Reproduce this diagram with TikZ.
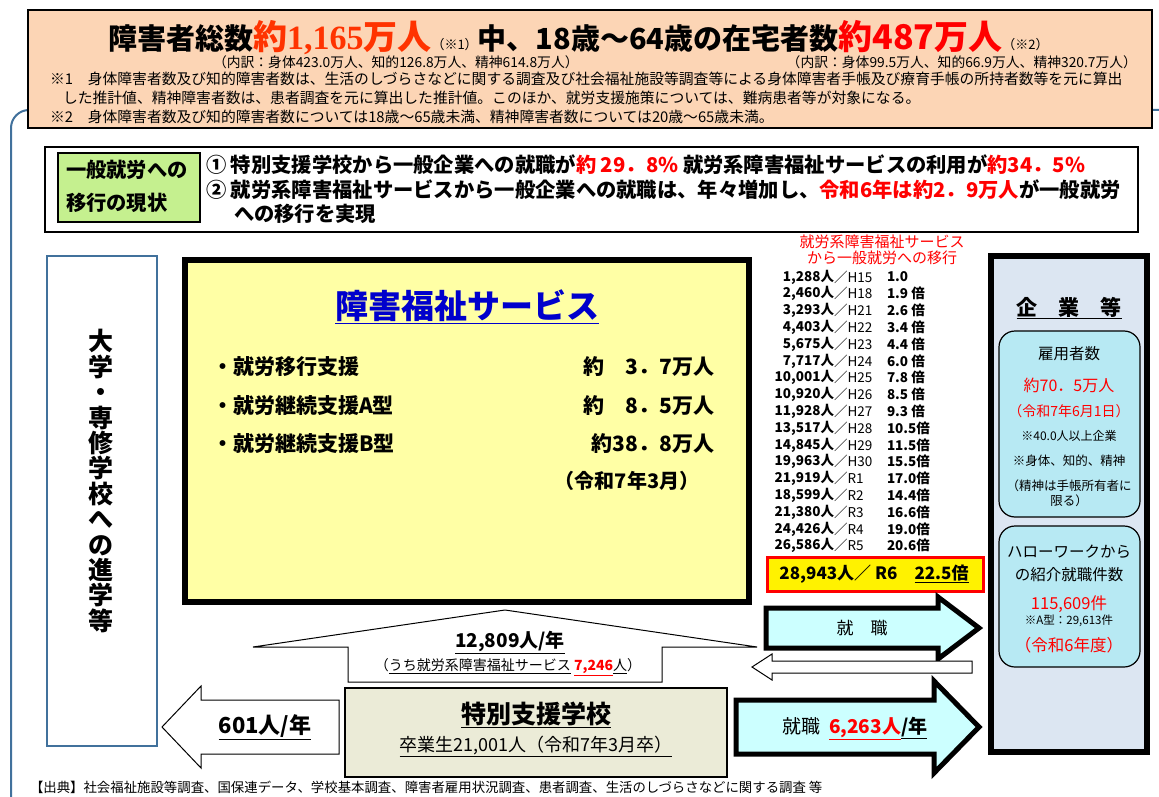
\documentclass[tikz,border=0pt]{standalone}
\usepackage{fontspec}
\setmainfont{Noto Sans CJK JP}
\newfontfamily\serifnum{Liberation Serif}
\usetikzlibrary{positioning}

\definecolor{peach}{HTML}{FCD5B5}
\definecolor{frameblue}{HTML}{41719C}
\definecolor{lime}{HTML}{C5F08F}
\definecolor{lemon}{HTML}{FFFFA5}
\definecolor{paleblue}{HTML}{DCE6F2}
\definecolor{aqua}{HTML}{B7E9F3}
\definecolor{arrowcyan}{HTML}{CCFFFF}
\definecolor{beige}{HTML}{EBEBD7}
\definecolor{hired}{HTML}{FF0000}
\definecolor{orred}{HTML}{FF3300}
\definecolor{titleblue}{HTML}{0000CC}

\newcommand{\fs}[1]{\fontsize{#1}{#1}\selectfont}

\tikzstyle{tx} = [inner sep=0pt, outer sep=0pt]
\tikzstyle{note} = [tx, anchor=west, font=\fs{14.8}]
\tikzstyle{lead} = [tx, anchor=west, font=\fs{20.3}\bfseries]
\tikzstyle{item} = [tx, font=\fs{21}\bfseries]
\tikzstyle{rowN} = [tx, anchor=east, font=\fs{13.5}\bfseries]
\tikzstyle{rowT} = [tx, anchor=west, font=\fs{13.5}]
\tikzstyle{rowM} = [tx, anchor=west, font=\fs{13.5}\bfseries]
\tikzstyle{pane} = [draw=black, line width=1.5pt]
\tikzstyle{heavy} = [draw=black, line width=6pt]
\tikzstyle{bubble} = [draw=black, line width=1.2pt, fill=aqua,
    rounded corners=16pt]
\tikzstyle{inb} = [tx, font=\fs{#1}]
\tikzstyle{blockR} = [draw=black, line width=5pt, fill=arrowcyan,
    line join=miter]
\tikzstyle{blockW} = [draw=black, line width=1pt, fill=white]

\begin{document}
\begin{tikzpicture}[x=1pt,y=-1pt]
\useasboundingbox (0,0) rectangle (1159,797);

% outer frame
\begin{scope}
\clip (0,0) rectangle (1159,797);
\draw[frameblue, line width=2pt, rounded corners=18pt] (11,110) rectangle (1185,825);
\end{scope}

% header
\draw[pane, fill=peach] (28,10) rectangle (1152,128);
\node[tx, anchor=base west] (hd) at (108,50) {%
  {\fs{29}\bfseries 障害者総数}%
  {\color{orred}\fs{34}\bfseries 約{\serifnum 1,165}万人}%
  {\fs{13}（※1）}%
  {\fs{29}\bfseries 中、18歳～64歳の在宅者数}%
  {\color{hired}\fs{34}\bfseries 約487万人}%
  {\fs{13}（※2）}};
\node[tx, anchor=west, font=\fs{13.8}] (hd-1) at (213,62)
  {（内訳：身体423.0万人、知的126.8万人、精神614.8万人）};
\node[tx, anchor=east, font=\fs{13.8}] (hd-2) at (1137,62)
  {（内訳：身体99.5万人、知的66.9万人、精神320.7万人）};
\node[note] (hd-3) at (50,79)
  {※1　身体障害者数及び知的障害者数は、生活のしづらさなどに関する調査及び社会福祉施設等調査等による身体障害者手帳及び療育手帳の所持者数等を元に算出};
\node[note] (hd-4) at (63,98)
  {した推計値、精神障害者数は、患者調査を元に算出した推計値。このほか、就労支援施策については、難病患者等が対象になる。};
\node[note] (hd-5) at (50,117)
  {※2　身体障害者数及び知的障害者数については18歳～65歳未満、精神障害者数については20歳～65歳未満。};

% current state
\draw[pane, line width=2.5pt, fill=white] (45,147) rectangle (1138,232);
\draw[pane, fill=lime] (58,153) rectangle (200,222);
\node[lead] (gen-1) at (66,170) {一般就労への};
\node[lead] (gen-2) at (66,203) {移行の現状};
\node[lead] (now-1) at (206,165)
  {① 特別支援学校から一般企業への就職が{\color{hired}約 29．8\%} 就労系障害福祉サービスの利用が{\color{hired}約34．5\%}};
\node[lead] (now-2) at (206,190)
  {② 就労系障害福祉サービスから一般企業への就職は、年々増加し、{\color{hired}令和6年は約2．9万人}が一般就労};
\node[lead] (now-3) at (234,214) {への移行を実現};

% university
\draw[frameblue, line width=2pt, fill=white] (47,256) rectangle (157,746);
\node[tx, font=\fs{25}\bfseries, align=center] (univ) at (101,481)
  {大\\[0.4pt]学\\[0.4pt]・\\[0.4pt]専\\[0.4pt]修\\[0.4pt]学\\[0.4pt]校\\[0.4pt]へ\\[0.4pt]の\\[0.4pt]進\\[0.4pt]学\\[0.4pt]等};

% welfare services
\draw[heavy, fill=lemon] (185,260) rectangle (749,602);
\node[tx, font=\fs{33}\bfseries, text=titleblue] (svc) at (467,307) {\underline{障害福祉サービス}};
\node[item, anchor=west] (svc-1) at (212,367) {・就労移行支援};
\node[item, anchor=west] (svc-2) at (212,406) {・就労継続支援A型};
\node[item, anchor=west] (svc-3) at (212,444) {・就労継続支援B型};
\node[item, anchor=east] (num-1) at (714,367) {約　3．7万人};
\node[item, anchor=east] (num-2) at (714,406) {約　8．5万人};
\node[item, anchor=east] (num-3) at (714,444) {約38．8万人};
\node[item, font=\fs{20}\bfseries] (num-4) at (627,481) {（令和7年3月）};

% transition list
\node[tx, font=\fs{15}, text=hired] (ls-1) at (882,242) {就労系障害福祉サービス};
\node[tx, font=\fs{15}, text=hired] (ls-2) at (882,258) {から一般就労への移行};
\foreach \num/\era/\rate [count=\i from 0] in
  {{1,288}/H15/{1.0}, {2,460}/H18/{1.9 倍}, {3,293}/H21/{2.6 倍},
   {4,403}/H22/{3.4 倍}, {5,675}/H23/{4.4 倍}, {7,717}/H24/{6.0 倍},
   {10,001}/H25/{7.8 倍}, {10,920}/H26/{8.5 倍}, {11,928}/H27/{9.3 倍},
   {13,517}/H28/{10.5倍}, {14,845}/H29/{11.5倍}, {19,963}/H30/{15.5倍},
   {21,919}/R1/{17.0倍}, {18,599}/R2/{14.4倍}, {21,380}/R3/{16.6倍},
   {24,426}/R4/{19.0倍}, {26,586}/R5/{20.6倍}}{
  \node[rowN] (row-\i) at (834,{277+\i*16.8}) {\num 人};
  \node[rowT] (era-\i) at (row-\i.east) {／\era};
  \node[rowM] (rate-\i) at (887,{277+\i*16.8}) {\rate};
}
\draw[draw=hired, line width=3pt, fill=yellow] (767,557) rectangle (983,591);
\node[tx, font=\fs{17}\bfseries] (r6) at (874,574) {28,943人／ R6\quad\underline{22.5倍}};

% companies
\draw[heavy, fill=paleblue] (991,256) rectangle (1147,752);
\node[tx, font=\fs{21}\bfseries] (co) at (1069,308) {\underline{企　業　等}};
\draw[bubble] (999,331) rectangle (1140,517);
\node[inb=15.5] (co-1) at (1069,354) {雇用者数};
\node[inb=16, text=hired] (co-2) at (1069,385) {約70．5万人};
\node[inb=14, text=hired] (co-3) at (1069,411) {（令和7年6月1日）};
\node[inb=12] (co-4) at (1069,436) {※40.0人以上企業};
\node[inb=12.5] (co-5) at (1069,461) {※身体、知的、精神};
\node[inb=12.5] (co-6) at (1069,486) {（精神は手帳所有者に};
\node[inb=12.5] (co-7) at (1069,501) {限る）};
\draw[bubble] (999,526) rectangle (1140,667);
\node[inb=15.5] (hw-1) at (1069,552) {ハローワークから};
\node[inb=15.5] (hw-2) at (1069,575) {の紹介就職件数};
\node[inb=16.5, text=hired] (hw-3) at (1069,604) {115,609件};
\node[inb=11.5] (hw-4) at (1069,621) {※A型：29,613件};
\node[inb=16.5, text=hired] (hw-5) at (1069,645) {（令和6年度）};

% arrows
\draw[blockR] (766,608) -- (938,608) -- (938,597) -- (979,628)
  -- (938,659) -- (938,648) -- (766,648) -- cycle;
\node[tx, font=\fs{17}] (job-1) at (862,628) {就　職};
\draw[blockW] (972,661) -- (772,661) -- (772,654) -- (752,667)
  -- (772,680) -- (772,673) -- (972,673) -- cycle;
\draw[blockW] (348,682) -- (348,647) -- (253,647) -- (505,610)
  -- (757,647) -- (662,647) -- (662,682) -- cycle;
\node[tx, font=\fs{19}\bfseries] (up-1) at (510,642) {\underline{12,809人/年}};
\node[tx, font=\fs{14}] (up-2) at (508,667)
  {（\underline{うち就労系障害福祉サービス}\ {\color{hired}\bfseries\underline{7,246}}\underline{人}）};
\draw[blockW] (339,700) -- (201,700) -- (201,686) -- (162,727)
  -- (201,768) -- (201,754) -- (339,754) -- cycle;
\node[tx, font=\fs{22}\bfseries] (left-1) at (265,727) {\underline{601人/年}};
\draw[pane, fill=beige] (345,688) rectangle (727,777);
\node[tx, font=\fs{25}\bfseries] (sch) at (536,715) {\underline{特別支援学校}};
\node[tx, font=\fs{18}] (sch-1) at (536,746) {\underline{卒業生21,001人（令和7年3月卒）}};
\draw[blockR] (736,700) -- (934,700) -- (934,681) -- (979,727)
  -- (934,773) -- (934,754) -- (736,754) -- cycle;
\node[tx, font=\fs{19}] (job-2) at (855,728)
  {就職\ \ {\color{hired}\bfseries\underline{6,263人}}{\bfseries\underline{/年}}};

% source
\node[tx, anchor=west, font=\fs{13.4}] (src) at (30,787)
  {【出典】社会福祉施設等調査、国保連データ、学校基本調査、障害者雇用状況調査、患者調査、生活のしづらさなどに関する調査 等};

\end{tikzpicture}
\end{document}
